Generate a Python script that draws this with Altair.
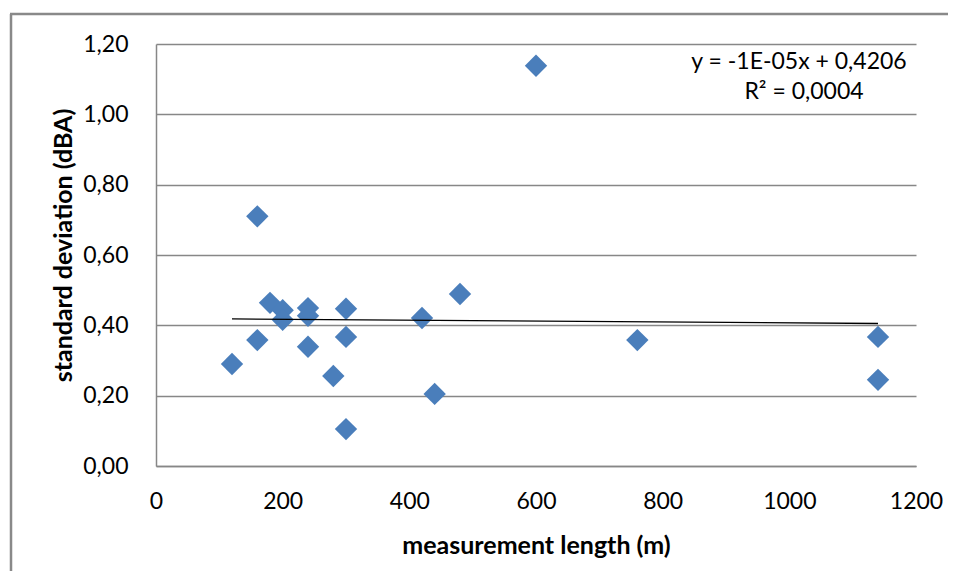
import altair as alt
import pandas as pd

lengths = [120, 160, 160, 180, 200, 200, 240, 240, 240, 280,
           300, 300, 300, 420, 440, 480, 600, 760, 1140, 1140]
std_dev = [0.290, 0.710, 0.358, 0.464, 0.443, 0.416, 0.449, 0.427, 0.339, 0.256,
           0.447, 0.367, 0.105, 0.421, 0.205, 0.489, 1.138, 0.358, 0.367, 0.245]

x_ticks = [0, 200, 400, 600, 800, 1000, 1200]
y_ticks = [0.0, 0.2, 0.4, 0.6, 0.8, 1.0, 1.2]

eq_text = "y = -1E-05x + 0,4206"
r2_text = "R² = 0,0004"

df = pd.DataFrame({"length": lengths, "sd": std_dev})

FONT = "Lato"
GRID = "#878787"

x_enc = alt.X(
    "length:Q",
    scale=alt.Scale(domain=[0, 1200], nice=False, zero=True),
    axis=alt.Axis(
        values=x_ticks, grid=False, ticks=False, labelFlush=False, format="d",
        domainColor=GRID, domainWidth=1.5,
        labelFont=FONT, labelFontSize=23, labelColor="black", labelPadding=24,
        title="measurement length (m)", titleFont=FONT, titleFontSize=25,
        titleFontWeight="bold", titleColor="black",
        titleY=79, titleBaseline="middle",
    ),
)
y_enc = alt.Y(
    "sd:Q",
    scale=alt.Scale(domain=[0, 1.2], nice=False),
    axis=alt.Axis(
        values=y_ticks, grid=True, gridColor=GRID, gridWidth=1.5,
        ticks=False, domainColor=GRID, domainWidth=1.5,
        labelExpr="replace(format(datum.value, '.2f'), '.', ',')",
        labelFont=FONT, labelFontSize=23, labelColor="black", labelPadding=28,
        title="standard deviation (dBA)", titleFont=FONT, titleFontSize=25,
        titleFontWeight="bold", titleColor="black",
        titleAngle=270, titleX=-93, titleY=201,
        titleAlign="center", titleBaseline="middle",
    ),
)

base = alt.Chart(df)
points = base.mark_point(
    shape="diamond", filled=True, size=500, color="#4A7EBB", opacity=1
).encode(x=x_enc, y=y_enc)

trend = base.transform_regression("length", "sd").mark_line(
    color="black", strokeWidth=1.3
).encode(x="length:Q", y="sd:Q")

eq = alt.Chart(pd.DataFrame({"t": [eq_text]})).mark_text(
    font=FONT, fontSize=23, align="center", baseline="middle", color="black"
).encode(text="t:N", x=alt.value(643), y=alt.value(18))

r2 = alt.Chart(pd.DataFrame({"t": [r2_text]})).mark_text(
    font=FONT, fontSize=23, align="center", baseline="middle", color="black"
).encode(text="t:N", x=alt.value(648), y=alt.value(48))

frame = pd.DataFrame({"a": [0]})
border_left = alt.Chart(frame).mark_rule(color="#898989", strokeWidth=2.5).encode(
    x=alt.value(-145), y=alt.value(-30), y2=alt.value(540)
)
border_top = alt.Chart(frame).mark_rule(color="#898989", strokeWidth=2.5).encode(
    x=alt.value(-146), x2=alt.value(800), y=alt.value(-30)
)

chart = alt.layer(border_left, border_top, points, trend, eq, r2).properties(
    width=760,
    height=422,
    autosize=alt.AutoSizeParams(type="none"),
    padding={"left": 148, "top": 36, "right": 32, "bottom": 105},
    background="white",
).configure_view(stroke=None)

chart.save("out.html", embed_options={"renderer": "svg", "actions": False})
